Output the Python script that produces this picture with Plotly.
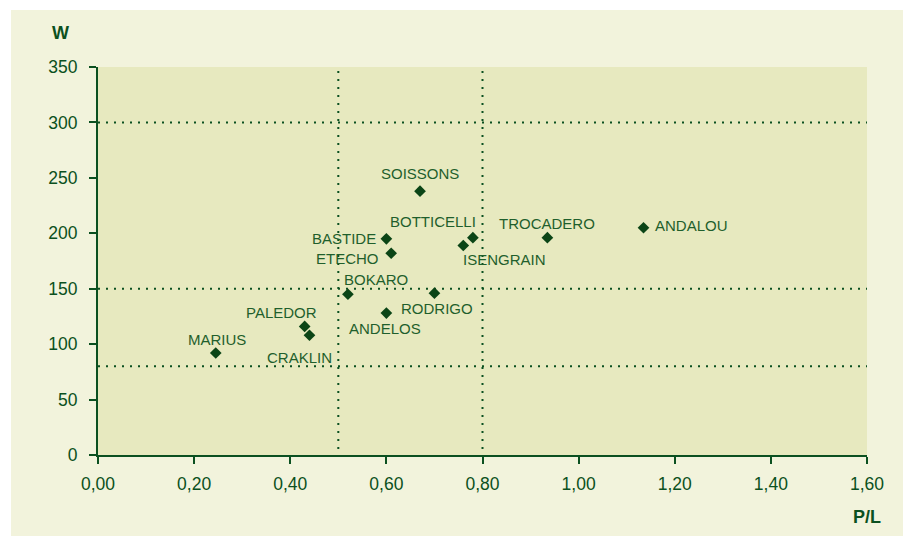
import plotly.graph_objects as go

# ---- data ----
varieties = ["MARIUS", "PALEDOR", "CRAKLIN", "ANDELOS", "BOKARO", "RODRIGO", "BASTIDE",
             "ETECHO", "SOISSONS", "ISENGRAIN", "BOTTICELLI", "TROCADERO", "ANDALOU"]
pl_values = [0.245, 0.43, 0.44, 0.60, 0.52, 0.70, 0.60, 0.61, 0.67, 0.76, 0.78, 0.935, 1.135]
w_values = [92, 116, 108, 128, 145, 146, 195, 182, 238, 189, 196, 196, 205]

x_thresholds = [0.5, 0.8]
y_thresholds = [80, 150, 300]

x_tick_vals = [0.0, 0.2, 0.4, 0.6, 0.8, 1.0, 1.2, 1.4, 1.6]
x_tick_text = ["0,00", "0,20", "0,40", "0,60", "0,80", "1,00", "1,20", "1,40", "1,60"]
y_tick_vals = [0, 50, 100, 150, 200, 250, 300, 350]

# ---- style ----
AXIS_COL = "#0b5020"
TEXT_COL = "#1f5f2c"
MARK_COL = "#0b4516"
OUTER_BG = "#f2f3dc"
PLOT_BG = "#e7e9bf"
FONT = "Liberation Sans, Arial, sans-serif"

# label placement (pixel offsets from each point, anchor)
label_style = {
    "MARIUS": (1, 14, "center"),
    "PALEDOR": (-23, 14, "center"),
    "CRAKLIN": (-10, -22, "center"),
    "ANDELOS": (-1, -15, "center"),
    "BOKARO": (-6, 15, "left"),
    "RODRIGO": (3, -15, "center"),
    "BASTIDE": (-8, 0, "right"),
    "ETECHO": (-10, -5, "right"),
    "SOISSONS": (0, 18, "center"),
    "ISENGRAIN": (41, -14, "center"),
    "BOTTICELLI": (-40, 16, "center"),
    "TROCADERO": (0, 14, "center"),
    "ANDALOU": (9, 2, "left"),
}

fig = go.Figure()
fig.add_trace(go.Scatter(
    x=pl_values, y=w_values, mode="markers",
    marker=dict(symbol="diamond", size=9, color=MARK_COL, line=dict(width=0)),
    hoverinfo="text", text=varieties, showlegend=False,
))

annotations = []
for name, xv, yv in zip(varieties, pl_values, w_values):
    dx, dy, anc = label_style[name]
    annotations.append(dict(
        x=xv, y=yv, xref="x", yref="y", text=name, showarrow=False,
        xanchor=anc, yanchor="middle", xshift=dx, yshift=dy,
        font=dict(family=FONT, size=15, color=TEXT_COL),
    ))

annotations.append(dict(x=-0.049, y=1.088, xref="paper", yref="paper", text="<b>W</b>",
                        showarrow=False, xanchor="center", yanchor="middle",
                        font=dict(family=FONT, size=18, color=AXIS_COL)))
annotations.append(dict(x=1.0, y=-0.159, xref="paper", yref="paper", text="<b>P/L</b>",
                        showarrow=False, xanchor="center", yanchor="middle",
                        font=dict(family=FONT, size=18, color=AXIS_COL)))

shapes = [
    dict(type="rect", xref="paper", yref="paper", x0=-0.1131, x1=1.1, y0=-0.3, y1=1.147,
         fillcolor=OUTER_BG, line=dict(width=0), layer="below"),
    dict(type="rect", xref="paper", yref="paper", x0=0, x1=1, y0=0, y1=1,
         fillcolor=PLOT_BG, line=dict(width=0), layer="below"),
]
for xv in x_thresholds:
    shapes.append(dict(type="line", xref="x", yref="paper", x0=xv, x1=xv, y0=-0.005, y1=1,
                       line=dict(color=AXIS_COL, width=2, dash="2px,6px"), layer="below"))
for yv in y_thresholds:
    shapes.append(dict(type="line", xref="paper", yref="y", x0=0, x1=1, y0=yv, y1=yv,
                       line=dict(color=AXIS_COL, width=2, dash="2px,6px"), layer="below"))

fig.update_layout(
    width=903, height=536,
    margin=dict(l=98, r=36, t=67, b=81, pad=0),
    paper_bgcolor="white",
    plot_bgcolor="rgba(0,0,0,0)",
    font=dict(family=FONT, color=AXIS_COL),
    shapes=shapes,
    annotations=annotations,
    xaxis=dict(range=[0, 1.6], tickvals=x_tick_vals, ticktext=x_tick_text,
               showgrid=False, zeroline=False, showline=True, linecolor=AXIS_COL, linewidth=2,
               ticks="outside", ticklen=7, tickwidth=2, tickcolor=AXIS_COL,
               tickfont=dict(family=FONT, size=17.5, color=AXIS_COL), ticklabelstandoff=5),
    yaxis=dict(range=[0, 350], tickvals=y_tick_vals,
               showgrid=False, zeroline=False, showline=True, linecolor=AXIS_COL, linewidth=2,
               ticks="outside", ticklen=7, tickwidth=2, tickcolor=AXIS_COL,
               tickfont=dict(family=FONT, size=17.5, color=AXIS_COL), ticklabelstandoff=8),
)

fig.write_html("out.html", config={"displayModeBar": False},
               post_script="document.body.style.margin='0';document.body.style.overflow='hidden';")
